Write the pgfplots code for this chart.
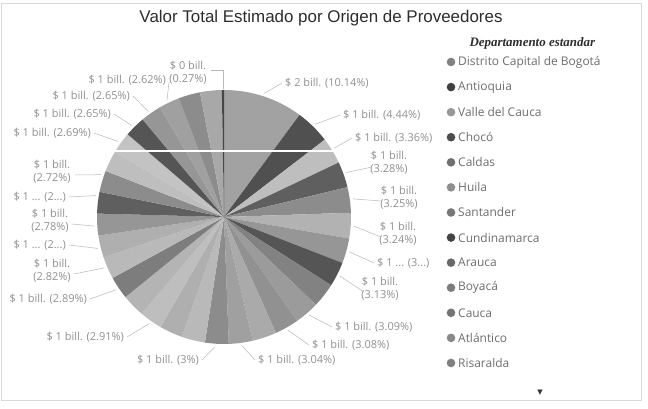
\documentclass[border=0pt]{standalone}
\usepackage{pgfplots}
\pgfplotsset{compat=1.18}
\usepackage{pgfplotstable}
\usepackage{fontspec}
\setmainfont{Open Sans}
\newfontfamily\titlefont{Liberation Sans}
\newfontfamily\legfont{Liberation Serif}
\newfontfamily\symfont{DejaVu Sans}

\definecolor{labgray}{RGB}{145,145,145}
\definecolor{leadgray}{RGB}{185,185,185}
\definecolor{legtext}{RGB}{110,110,110}
\definecolor{titletext}{RGB}{45,45,45}

% share of each department (percent), gray level of its slice
\pgfplotstableread{
pct L
10.14 162
4.44 80
3.36 190
3.28 95
3.25 140
3.24 178
3.18 150
3.13 85
3.11 130
3.09 155
3.08 145
3.06 170
3.04 160
3.00 140
2.98 185
2.95 175
2.91 190
2.90 180
2.89 125
2.82 185
2.80 175
2.78 150
2.75 95
2.72 140
2.70 190
2.69 195
2.65 85
2.65 150
2.62 160
2.76 140
2.76 168
0.27 70
}\slices

\newcommand{\leader}[3]{\draw[leadgray, line width=0.5bp] (axis cs:224,217) ++({90-#1}:130bp) -- (axis cs:#2,#3);}

\begin{document}
\begin{tikzpicture}
\begin{axis}[
  scale only axis, width=648bp, height=409bp,
  xmin=0, xmax=648, ymin=0, ymax=409, y dir=reverse,
  hide axis, clip=false,
]
\fill[white] (axis cs:0,0) rectangle (axis cs:648,409);
\draw[gray!30, line width=0.8bp] (axis cs:1,3) rectangle (axis cs:641,400);

% pie slices, clockwise from 12 o'clock
\def\cum{0}
\pgfplotsforeachungrouped \i in {0,...,31}{%
  \pgfplotstablegetelem{\i}{pct}\of\slices \let\p\pgfplotsretval
  \pgfplotstablegetelem{\i}{L}\of\slices \let\g\pgfplotsretval
  \pgfmathsetmacro\sa{90-3.6*\cum}%
  \pgfmathsetmacro\cum{\cum+\p}%
  \pgfmathsetmacro\ea{90-3.6*\cum}%
  \edef\temp{\noexpand\fill[fill={rgb,255:red,\g;green,\g;blue,\g}] (axis cs:224,217) -- ++(\sa:127bp) arc[start angle=\sa, end angle=\ea, radius=127bp] -- cycle;}%
  \temp
}
% scan artefact line
\draw[white, line width=2bp] (axis cs:114,151) -- (axis cs:334,151);

% title
\node[font=\titlefont\fontsize{17}{20}\selectfont, text=titletext] at (axis cs:321,18) {Valor Total Estimado por Origen de Proveedores};

% data labels
\begin{scope}[every node/.style={font=\fontsize{11}{13}\selectfont, text=labgray, inner sep=0pt}]
\node[anchor=west] at (axis cs:285,83) {\$ 2 bill. (10.14\%)};
\node[anchor=west] at (axis cs:343,115) {\$ 1 bill. (4.44\%)};
\node[anchor=west] at (axis cs:355,138) {\$ 1 bill. (3.36\%)};
\node[align=center] at (axis cs:389,163) {\$ 1 bill.\\(3.28\%)};
\node[align=center] at (axis cs:399,198) {\$ 1 bill.\\(3.25\%)};
\node[align=center] at (axis cs:398,234) {\$ 1 bill.\\(3.24\%)};
\node[anchor=west] at (axis cs:377,263) {\$ 1 ... (3...)};
\node[align=center] at (axis cs:380,289) {\$ 1 bill.\\(3.13\%)};
\node[anchor=west] at (axis cs:335,327) {\$ 1 bill. (3.09\%)};
\node[anchor=west] at (axis cs:312,345) {\$ 1 bill. (3.08\%)};
\node[anchor=west] at (axis cs:258,360) {\$ 1 bill. (3.04\%)};
\node[anchor=east] at (axis cs:199,360) {\$ 1 bill. (3\%)};
\node[anchor=east] at (axis cs:124,337) {\$ 1 bill. (2.91\%)};
\node[anchor=east] at (axis cs:87,299) {\$ 1 bill. (2.89\%)};
\node[align=center] at (axis cs:52,271) {\$ 1 bill.\\(2.82\%)};
\node[anchor=east] at (axis cs:66,245) {\$ 1 ... (2...)};
\node[align=center] at (axis cs:50,221) {\$ 1 bill.\\(2.78\%)};
\node[anchor=east] at (axis cs:66,197) {\$ 1 ... (2...)};
\node[align=center] at (axis cs:52,172) {\$ 1 bill.\\(2.72\%)};
\node[anchor=east] at (axis cs:91,133) {\$ 1 bill. (2.69\%)};
\node[anchor=east] at (axis cs:111,114) {\$ 1 bill. (2.65\%)};
\node[anchor=east] at (axis cs:130,96) {\$ 1 bill. (2.65\%)};
\node[anchor=east] at (axis cs:166,80) {\$ 1 bill. (2.62\%)};
\node[align=center] at (axis cs:188,73) {\$ 0 bill.\\(0.27\%)};
\end{scope}

% leader lines
\leader{18}{282}{83}
\leader{44.5}{340}{115}
\leader{58}{352}{138}
\leader{70}{372}{167}
\leader{82}{382}{201}
\leader{94}{381}{237}
\leader{105.5}{374}{263}
\leader{117}{364}{292}
\leader{139}{332}{327}
\leader{150.5}{309}{345}
\leader{172}{255}{360}
\leader{184}{202}{360}
\leader{215}{127}{337}
\leader{236}{90}{299}
\leader{247}{74}{274}
\leader{256}{69}{245}
\leader{266}{72}{224}
\leader{279.5}{69}{197}
\leader{289}{75}{175}
\leader{305.5}{94}{133}
\leader{314.8}{114}{114}
\leader{324.3}{133}{96}
\leader{334}{169}{82}
\draw[leadgray, line width=0.5bp] (axis cs:223,89) -- (axis cs:223,70) -- (axis cs:211,70);

% legend
\node[anchor=west, font=\legfont\bfseries\itshape\fontsize{13}{15}\selectfont, text=titletext] at (axis cs:466,43) {Departamento estandar};
\pgfplotsforeachungrouped \i in {0,...,12}{%
  \pgfplotstablegetelem{\i}{L}\of\slices \let\g\pgfplotsretval
  \pgfmathtruncatemacro\m{0.8*\g}%
  \pgfmathsetmacro\yy{62+25.08*\i}%
  \edef\temp{\noexpand\fill[fill={rgb,255:red,\m;green,\m;blue,\m}] (axis cs:451,\yy) circle[radius=4.3bp];}%
  \temp
}
\begin{scope}[every node/.style={anchor=west, font=\fontsize{12}{14}\selectfont, text=legtext, inner sep=0pt}]
\node at (axis cs:458,62) {Distrito Capital de Bogotá};
\node at (axis cs:458,87.08) {Antioquia};
\node at (axis cs:458,112.16) {Valle del Cauca};
\node at (axis cs:458,137.24) {Chocó};
\node at (axis cs:458,162.32) {Caldas};
\node at (axis cs:458,187.4) {Huila};
\node at (axis cs:458,212.48) {Santander};
\node at (axis cs:458,237.56) {Cundinamarca};
\node at (axis cs:458,262.64) {Arauca};
\node at (axis cs:458,287.72) {Boyacá};
\node at (axis cs:458,312.8) {Cauca};
\node at (axis cs:458,337.88) {Atlántico};
\node at (axis cs:458,362.96) {Risaralda};
\end{scope}
\node[font=\symfont\fontsize{7}{8}\selectfont, text=black!80] at (axis cs:540,393) {▼};
\end{axis}
\end{tikzpicture}
\end{document}
